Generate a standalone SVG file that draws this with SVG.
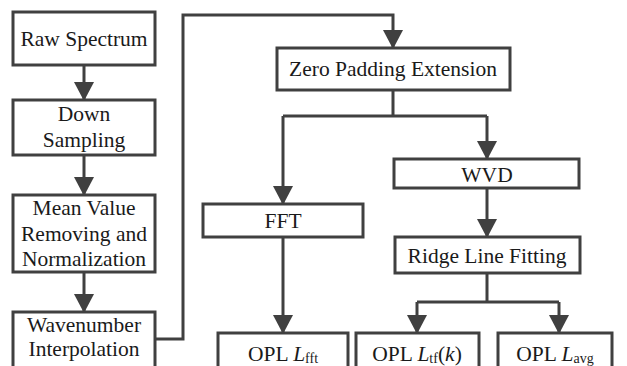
<svg xmlns="http://www.w3.org/2000/svg" width="627" height="366" viewBox="0 0 627 366">
<defs>
<marker id="ah" markerUnits="userSpaceOnUse" markerWidth="20" markerHeight="22" refX="18" refY="10" orient="auto" viewBox="0 0 20 20">
<path d="M0,0 L19,10 L0,20 z" fill="#404040"/>
</marker>
</defs>
<style>
.b{fill:#fff;stroke:#404040;stroke-width:3}
.c{fill:none;stroke:#404040;stroke-width:3}
text{font-family:'Liberation Serif','Times New Roman',Times,'DejaVu Serif',serif;font-size:21.5px;fill:#1a1a1a;text-anchor:middle}
.s{font-size:14px}
</style>
<rect width="627" height="366" fill="#fff"/>
<g id="connectors">
<path class="c" d="M84,65 V100" marker-end="url(#ah)"/>
<path class="c" d="M84,155 V195" marker-end="url(#ah)"/>
<path class="c" d="M84,272 V312" marker-end="url(#ah)"/>
<path class="c" d="M155,339 H183 V15 H393 V48" marker-end="url(#ah)"/>
<path class="c" d="M393,90 V116 M283,116 H487"/>
<path class="c" d="M283,116 V204" marker-end="url(#ah)"/>
<path class="c" d="M487,116 V159" marker-end="url(#ah)"/>
<path class="c" d="M487,188 V237" marker-end="url(#ah)"/>
<path class="c" d="M283,237 V333" marker-end="url(#ah)"/>
<path class="c" d="M487,273 V302 M417,302 H559"/>
<path class="c" d="M417,302 V333" marker-end="url(#ah)"/>
<path class="c" d="M559,302 V333" marker-end="url(#ah)"/>
</g>
<g id="raw"><rect class="b" x="13" y="12" width="142" height="53"/><text font-family="Liberation Serif, serif" x="84" y="46">Raw Spectrum</text></g>
<g id="down"><rect class="b" x="13" y="100" width="142" height="55"/><text x="84" y="121">Down</text><text x="84" y="147">Sampling</text></g>
<g id="mean"><rect class="b" x="13" y="195" width="142" height="77"/><text x="84" y="215">Mean Value</text><text x="84" y="241">Removing and</text><text x="84" y="266">Normalization</text></g>
<g id="wave"><rect class="b" x="13" y="312" width="142" height="60"/><text x="84" y="332">Wavenumber</text><text x="84" y="356">Interpolation</text></g>
<g id="zero"><rect class="b" x="277" y="48" width="233" height="42"/><text x="393" y="76">Zero Padding Extension</text></g>
<g id="fft"><rect class="b" x="203" y="204" width="160" height="33"/><text x="283" y="228">FFT</text></g>
<g id="wvd"><rect class="b" x="394" y="159" width="185" height="29"/><text x="487" y="182">WVD</text></g>
<g id="ridge"><rect class="b" x="395" y="237" width="185" height="36"/><text x="487" y="263">Ridge Line Fitting</text></g>
<g id="lfft"><rect class="b" x="218" y="333" width="130" height="40"/><text x="283" y="361">OPL <tspan font-style="italic">L</tspan><tspan class="s" dy="2">fft</tspan></text></g>
<g id="ltf"><rect class="b" x="356" y="333" width="123" height="40"/><text x="417" y="361">OPL <tspan font-style="italic">L</tspan><tspan class="s" dy="2">tf</tspan><tspan dy="-2">(</tspan><tspan font-style="italic">k</tspan>)</text></g>
<g id="lavg"><rect class="b" x="498" y="333" width="114" height="40"/><text x="555" y="361">OPL <tspan font-style="italic">L</tspan><tspan class="s" dy="2">avg</tspan></text></g>
</svg>
